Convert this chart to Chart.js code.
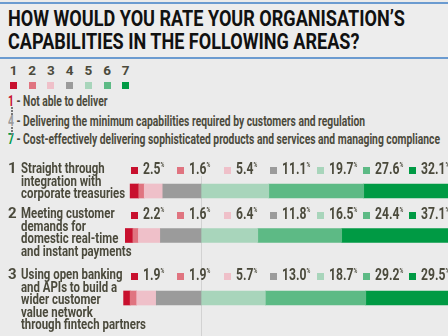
<!DOCTYPE html>
<html lang="en">
<head>
    <meta charset="UTF-8">
    <title>Capabilities</title>
    <script src="https://cdn.jsdelivr.net/npm/chart.js"></script>
    <style>
        body{
            margin: 0;
            width: 448px;
            height: 336px;
            overflow: hidden;
            background: #ebebeb;
            font-family: "Roboto", sans-serif;
            font-weight: bold;
            color: #4b4a3c;
            position: relative;
        }
        .abs{ position: absolute; }
        .sq{ transform-origin: 0 0; white-space: nowrap; }
        #title{
            left: 0; top: 2px; width: 448px; height: 53px;
            border-top: 2px solid #6b9bd0;
            border-bottom: 2px solid #6b9bd0;
            background: #ededed;
        }
        #title div{
            position: absolute; left: 8px; top: 3px;
            font-size: 22px; line-height: 23px; color: #111;
        }
        .lg-item{ position: absolute; width: 8px; text-align: center; font-size: 13.5px; }
        .lg-sq{ position: absolute; width: 7px; height: 7px; }
        .desc{ position: absolute; left: 8px; font-size: 14px; }
        .dot{ position: absolute; left: 11px; width: 2px; height: 2px; background: #777; }
        .rownum{ position: absolute; left: 8px; font-size: 15px; line-height: 12.5px; }
        .rowlbl{ position: absolute; left: 21px; font-size: 15.5px; line-height: 12.5px; }
        .pct{ position: absolute; font-size: 16.5px; white-space: nowrap; }
        .pct i{ position: absolute; left: 0; top: 5px; width: 7px; height: 7px; }
        .pct span{ position: absolute; left: 12px; top: -3px; display: inline-block; }
        .pct sup{ font-size: 7px; vertical-align: 7px; }
        canvas{ position: absolute; left: 0; }
    </style>
</head>
<body>
    <div id="title" class="abs"><div class="sq" id="ttl">HOW WOULD YOU RATE YOUR ORGANISATION’S<br>CAPABILITIES IN THE FOLLOWING AREAS?</div></div>
    <div id="legend"></div>
    <div id="rows"></div>

    <script>
        const scores = ['1', '2', '3', '4', '5', '6', '7']
        const scoreColors = ['#c8102e', '#e07480', '#efc0c9', '#9b9b9b', '#a8d5bb', '#5dba85', '#009a44']
        const scaleText = [
            ['1', 'Not able to deliver'],
            ['4', 'Delivering the minimum capabilities required by customers and regulation'],
            ['7', 'Cost-effectively delivering sophisticated products and services and managing compliance']
        ]
        const areaNums = ['1', '2', '3']
        const areas = [
            ['Straight through', 'integration with', 'corporate treasuries'],
            ['Meeting customer', 'demands for', 'domestic real-time', 'and instant payments'],
            ['Using open banking', 'and APIs to build a', 'wider customer', 'value network', 'through fintech partners']
        ]
        const area1 = [2.5, 1.6, 5.4, 11.1, 19.7, 27.6, 32.1]
        const area2 = [2.2, 1.6, 6.4, 11.8, 16.5, 24.4, 37.1]
        const area3 = [1.9, 1.9, 5.7, 13.0, 18.7, 29.2, 29.5]
        const shares = [area1, area2, area3]

        // layout
        const rowTop = [162, 207, 268]
        const barBox = [[176, 37], [213, 49], [262, 74]]
        const barCenter = [191, 235.5, 298]

        let html = ''
        scores.forEach((s, i) => {
            const x = 10 + i * 18.7
            html += '<div class="lg-item" style="left:' + (x - 0.5) + 'px;top:62px">' + s + '</div>'
            html += '<div class="lg-sq" style="left:' + x + 'px;top:82px;background:' + scoreColors[i] + '"></div>'
        })
        const descTop = [93, 113, 131]
        scaleText.forEach((d, i) => {
            const c = scoreColors[Number(d[0]) - 1]
            html += '<div class="desc sq" style="top:' + descTop[i] + 'px"><span style="color:' + c + '">' + d[0] + '</span> - ' + d[1] + '</div>'
        })
        ;[107, 110, 113, 127, 130, 133].forEach(y => {
            html += '<div class="dot" style="top:' + y + 'px"></div>'
        })
        document.getElementById('legend').innerHTML = html

        let rHtml = ''
        areas.forEach((lines, r) => {
            rHtml += '<canvas id="bar' + r + '" width="448" height="' + barBox[r][1] + '" style="top:' + barBox[r][0] + 'px"></canvas>'
            rHtml += '<div class="rownum" style="top:' + rowTop[r] + 'px">' + areaNums[r] + '</div>'
            rHtml += '<div class="rowlbl sq" style="top:' + rowTop[r] + 'px">' + lines.join('<br>') + '</div>'
            shares[r].forEach((v, i) => {
                rHtml += '<div class="pct" style="left:' + (131 + i * 46.4) + 'px;top:' + (rowTop[r]) + 'px"><i style="background:' + scoreColors[i] + '"></i><span class="sq">' + v.toFixed(1) + '<sup>%</sup></span></div>'
            })
        })
        document.getElementById('rows').innerHTML = rHtml

        // no condensed font installed: squeeze Roboto horizontally
        const longest = document.querySelectorAll('.desc')[2]
        const squeeze = 432 / longest.getBoundingClientRect().width
        document.querySelectorAll('.sq').forEach(el => {
            el.style.transform = 'scaleX(' + squeeze + ')'
        })
        const ttl = document.getElementById('ttl')
        ttl.style.display = 'inline-block'
        const tw = ttl.getBoundingClientRect().width / squeeze
        ttl.style.transform = 'scaleX(' + (397 / tw) + ')'

        const zeroLine = {
            id: 'zeroLine',
            beforeDatasetsDraw(chart) {
                const ctx = chart.ctx
                const x = Math.round(chart.scales.x.getPixelForValue(0)) + 0.5
                ctx.save()
                ctx.strokeStyle = '#d2d2d2'
                ctx.lineWidth = 1
                ctx.beginPath()
                ctx.moveTo(x, 0)
                ctx.lineTo(x, chart.height)
                ctx.stroke()
                ctx.restore()
            }
        }

        // scores 1-4 go left of zero (4 nearest), 5-7 go right
        const order = [3, 2, 1, 0, 4, 5, 6]

        shares.forEach((vals, r) => {
            const h = barBox[r][1]
            const half = barCenter[r] - barBox[r][0]
            new Chart(document.getElementById('bar' + r), {
                type: 'bar',
                data: {
                    labels: [areaNums[r]],
                    datasets: order.map(k => ({
                        label: scores[k],
                        data: [k < 4 ? -vals[k] : vals[k]],
                        backgroundColor: scoreColors[k],
                        borderWidth: 0,
                        barThickness: 14
                    }))
                },
                options: {
                    indexAxis: 'y',
                    responsive: false,
                    animation: false,
                    layout: { padding: { left: 120, right: 0, top: 0, bottom: h - 2 * half } },
                    scales: {
                        x: { stacked: true, min: -23.55, max: 71.8, display: false },
                        y: { stacked: true, display: false }
                    },
                    plugins: { legend: { display: false }, tooltip: { enabled: false } }
                },
                plugins: [zeroLine]
            })
        })
    </script>
</body>
</html>
